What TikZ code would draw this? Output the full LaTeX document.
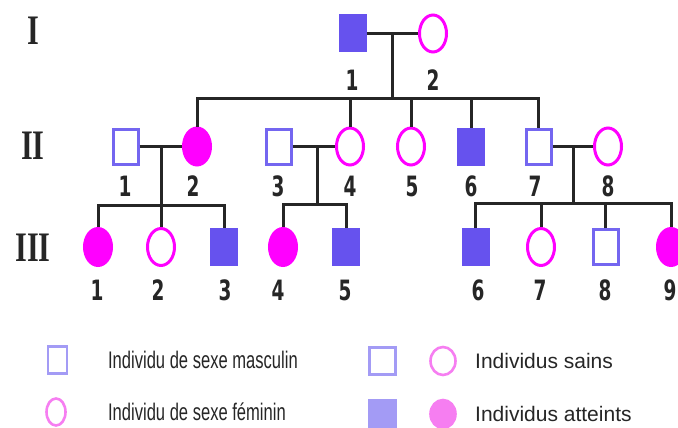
\documentclass[tikz,border=0pt]{standalone}
\usepackage{fontspec}
\usetikzlibrary{shapes.geometric}
\newfontfamily\digitfont{DejaVu Sans}
\newfontfamily\romfont{Liberation Serif}
\newfontfamily\legfont{Liberation Sans}
\definecolor{mblue}{HTML}{6652EE}
\definecolor{mline}{HTML}{7466F0}
\definecolor{fmag}{HTML}{FF00FF}
\definecolor{lblue}{HTML}{A39BF5}
\definecolor{lpink}{HTML}{F67EF1}
\begin{document}
\begin{tikzpicture}[x=1pt,y=-1pt,
  male/.style={rectangle, draw=mline, line width=3pt, minimum width=25pt, minimum height=35pt, inner sep=0pt},
  maleA/.style={male, draw=mblue, fill=mblue},
  female/.style={ellipse, draw=fmag, line width=3pt, minimum width=27pt, minimum height=37pt, inner sep=0pt},
  femaleA/.style={female, fill=fmag},
  link/.style={draw=black!85, line width=3pt},
  num/.style={font=\digitfont\bfseries\fontsize{28}{28}\selectfont, text=black!85, inner sep=0pt, xscale=0.66},
  gen/.style={font=\romfont\bfseries\fontsize{42}{42}\selectfont, text=black!85, inner sep=0pt, xscale=0.72},
  lsq/.style={rectangle, draw=lblue, line width=2.6pt, minimum width=19pt, minimum height=27pt, inner sep=0pt},
  lci/.style={ellipse, draw=lpink, line width=2.6pt, minimum width=19pt, minimum height=27pt, inner sep=0pt},
  ltxt/.style={font=\legfont\fontsize{21}{21}\selectfont, text=black!85, inner sep=0pt, anchor=west}
]
\useasboundingbox (0,0) rectangle (678,428);
\fill[white] (0,0) rectangle (678,428);

% generation labels
\node[gen] (gI) at (33,31) {I};
\node[gen] (gII) at (33,146) {II};
\node[gen] (gIII) at (33,248) {III};

% generation I
\node[maleA] (I1) at (352.5,33.5) {};
\node[female] (I2) at (433,33.5) {};

% generation II
\node[male] (II1) at (125.5,146.5) {};
\node[femaleA] (II2) at (197,146.5) {};
\node[male] (II3) at (278.5,146.5) {};
\node[female] (II4) at (350,146.5) {};
\node[female] (II5) at (411,146.5) {};
\node[maleA] (II6) at (471,146.5) {};
\node[male] (II7) at (538.5,146.5) {};
\node[female] (II8) at (608,146.5) {};

% generation III
\node[femaleA] (III1) at (98,247) {};
\node[female] (III2) at (161,247) {};
\node[maleA] (III3) at (224,247) {};
\node[femaleA] (III4) at (283,247) {};
\node[maleA] (III5) at (346,247) {};
\node[maleA] (III6) at (475.5,247) {};
\node[female] (III7) at (541,247) {};
\node[male] (III8) at (605.5,247) {};
\node[femaleA] (III9) at (671,247) {};

% connectors generation I
\coordinate (cI) at (392,33.5);
\coordinate (sI) at (392,99);
\draw[link] (I1.east) -- (I2.west);
\draw[link] (cI) -- (sI);
\draw[link] (II2.north) -- (II2.north |- sI) -- (II7.north |- sI) -- (II7.north);
\foreach \n in {II4,II5,II6} \draw[link] (\n.north) -- (\n.north |- sI);

% II1 x II2
\coordinate (c12) at (161,146.5);
\coordinate (s12) at (161,205);
\draw[link] (II1.east) -- (II2.west);
\draw[link] (c12) -- (III2.north);
\draw[link] (III1.north) -- (III1.north |- s12) -- (III3.north |- s12) -- (III3.north);

% II3 x II4
\coordinate (c34) at (317,146.5);
\coordinate (s34) at (317,204);
\draw[link] (II3.east) -- (II4.west);
\draw[link] (c34) -- (s34);
\draw[link] (III4.north) -- (III4.north |- s34) -- (III5.north |- s34) -- (III5.north);

% II7 x II8
\coordinate (c78) at (573,146.5);
\coordinate (s78) at (573,203);
\draw[link] (II7.east) -- (II8.west);
\draw[link] (c78) -- (s78);
\draw[link] (III6.north) -- (III6.north |- s78) -- (III9.north |- s78) -- (III9.north);
\foreach \n in {III7,III8} \draw[link] (\n.north) -- (\n.north |- s78);

% numbers
\node[num] (nI1) at (352,80) {1};
\node[num] (nI2) at (433,80) {2};
\node[num] (nII1) at (125,186) {1};
\node[num] (nII2) at (193,186) {2};
\node[num] (nII3) at (278,186) {3};
\node[num] (nII4) at (350,186) {4};
\node[num] (nII5) at (412,186) {5};
\node[num] (nII6) at (471,186) {6};
\node[num] (nII7) at (535,186) {7};
\node[num] (nII8) at (608,186) {8};
\node[num] (nIII1) at (97,290) {1};
\node[num] (nIII2) at (158,290) {2};
\node[num] (nIII3) at (225,290) {3};
\node[num] (nIII4) at (278,290) {4};
\node[num] (nIII5) at (345,290) {5};
\node[num] (nIII6) at (478,290) {6};
\node[num] (nIII7) at (540,290) {7};
\node[num] (nIII8) at (605,290) {8};
\node[num] (nIII9) at (670,290) {9};

% legend
\node[lsq] (Lm) at (57.5,360) {};
\node[ltxt, font=\legfont\fontsize{24}{24}\selectfont, xscale=0.69] (Lmt) at (108,360) {Individu de sexe masculin};
\node[lci] (Lf) at (56,412) {};
\node[ltxt, font=\legfont\fontsize{24}{24}\selectfont, xscale=0.69] (Lft) at (108,412) {Individu de sexe f\'eminin};
\node[lsq, minimum width=26pt, minimum height=27pt] (Lsq) at (382.5,361) {};
\node[lci, minimum width=25pt, minimum height=28pt] (Lci) at (443,361) {};
\node[ltxt] (Lst) at (475,361) {Individus sains};
\node[lsq, minimum width=26pt, minimum height=27pt, fill=lblue] (Lsqa) at (382.5,414) {};
\node[lci, minimum width=25pt, minimum height=28pt, fill=lpink] (Lcia) at (443,414) {};
\node[ltxt] (Lat) at (475,414) {Individus atteints};
\end{tikzpicture}
\end{document}
